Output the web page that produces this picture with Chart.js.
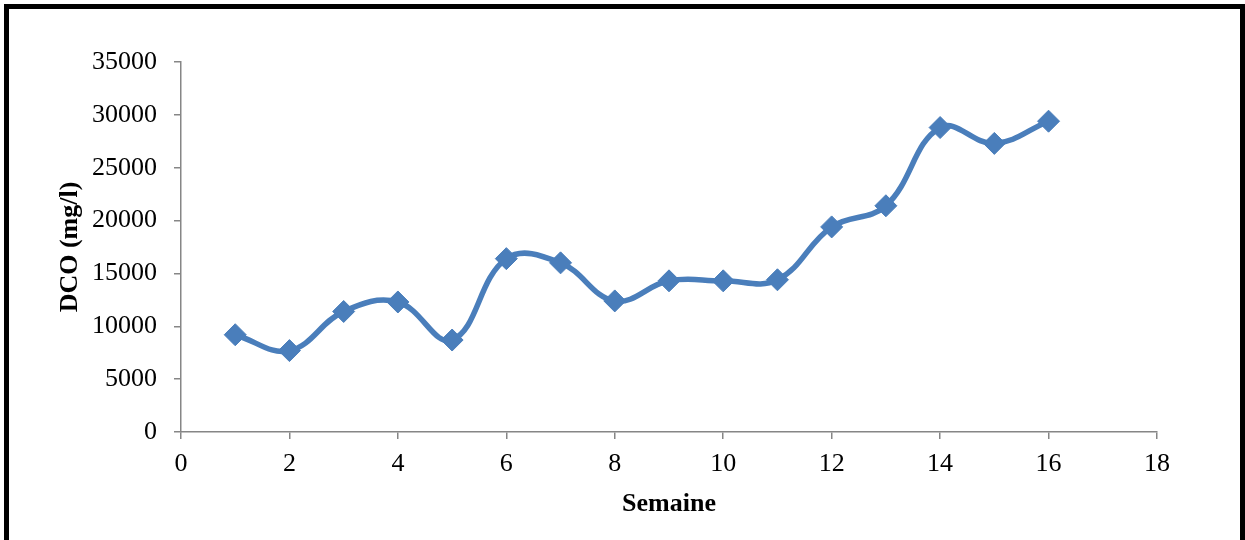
<!DOCTYPE html>
<html>
<head>
<meta charset="utf-8">
<style>
  html, body { margin: 0; padding: 0; background: #ffffff; }
  canvas { display: block; }
</style>
<script src="https://cdn.jsdelivr.net/npm/chart.js@4/dist/chart.umd.min.js"></script>
</head>
<body>
<canvas id="c" width="1245" height="540"></canvas>
<script>
// Weekly COD measurements
const weeks = [1, 2, 3, 4, 5, 6, 7, 8, 9, 10, 11, 12, 13, 14, 15, 16];
const dco = [9200, 7700, 11400, 12300, 8700, 16400, 16000, 12400, 14300, 14300, 14400, 19400, 21400, 28800, 27300, 29400];

// Axis ranges and tick steps
const xRange = [0, 18];
const xStep = 2;
const yRange = [0, 35000];
const yStep = 5000;

const xTitle = 'Semaine';
const yTitle = 'DCO (mg/l)';

const axisGray = '#868686';
const seriesBlue = '#4A7EBB';
const serif = "'Liberation Serif', 'Times New Roman', serif";

// Black frame around the figure (left, top, right edges)
const framePlugin = {
  id: 'frame',
  beforeDraw(chart) {
    const ctx = chart.ctx;
    ctx.save();
    ctx.fillStyle = '#ffffff';
    ctx.fillRect(0, 0, chart.width, chart.height);
    ctx.fillStyle = '#000000';
    ctx.fillRect(4, 4, 5, chart.height - 4);
    ctx.fillRect(4, 4, chart.width - 4, 5);
    ctx.fillRect(chart.width - 5, 4, 5, chart.height - 4);
    ctx.restore();
  }
};

new Chart(document.getElementById('c'), {
  type: 'line',
  data: {
    datasets: [{
      data: weeks.map((w, i) => ({ x: w, y: dco[i] })),
      borderColor: seriesBlue,
      backgroundColor: seriesBlue,
      borderWidth: 5.5,
      tension: 0.4,
      pointStyle: 'rectRot',
      pointRadius: 11,
      pointHoverRadius: 11,
      pointBackgroundColor: seriesBlue,
      pointBorderColor: seriesBlue,
      pointBorderWidth: 1,
      fill: false,
      clip: false
    }]
  },
  options: {
    responsive: false,
    animation: false,
    devicePixelRatio: 1,
    layout: { padding: { left: 0, top: 62, right: 88, bottom: 0 } },
    plugins: {
      legend: { display: false },
      tooltip: { enabled: false }
    },
    scales: {
      x: {
        type: 'linear',
        min: xRange[0],
        max: xRange[1],
        afterFit(scale) { scale.height = 108; },
        ticks: {
          stepSize: xStep,
          padding: 10,
          color: '#000000',
          font: { family: serif, size: 26 },
          callback: v => String(v)
        },
        grid: {
          drawOnChartArea: false,
          drawTicks: true,
          tickLength: 7,
          color: axisGray,
          lineWidth: 1.5
        },
        border: { color: axisGray, width: 1.5 },
        title: {
          display: true,
          text: xTitle,
          color: '#000000',
          font: { family: serif, size: 26, weight: 'bold' },
          padding: { top: 0, bottom: 20 }
        }
      },
      y: {
        min: yRange[0],
        max: yRange[1],
        afterFit(scale) { scale.width = 181; },
        ticks: {
          stepSize: yStep,
          padding: 17,
          color: '#000000',
          font: { family: serif, size: 26 },
          callback: v => String(v)
        },
        grid: {
          drawOnChartArea: false,
          drawTicks: true,
          tickLength: 7,
          color: axisGray,
          lineWidth: 1.5
        },
        border: { color: axisGray, width: 1.5 },
        title: {
          display: true,
          text: yTitle,
          color: '#000000',
          font: { family: serif, size: 26, weight: 'bold' },
          padding: { top: 55, bottom: 0 }
        }
      }
    }
  },
  plugins: [framePlugin]
});
</script>
</body>
</html>
